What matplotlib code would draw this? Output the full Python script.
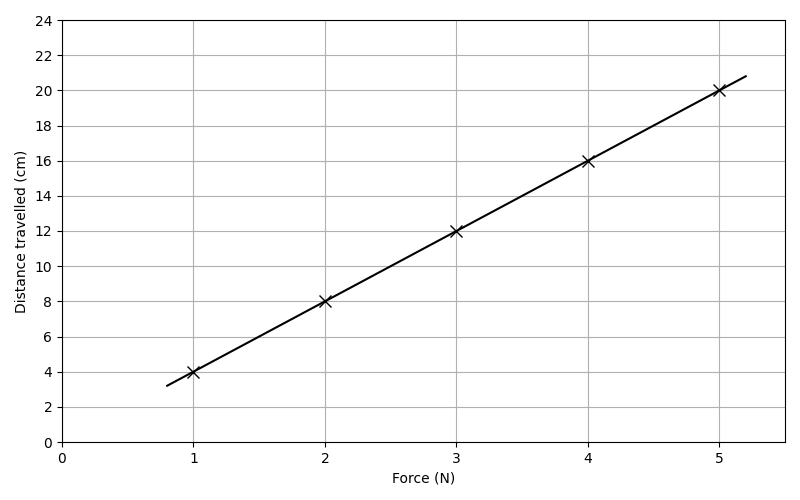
import matplotlib
matplotlib.use("Agg")
import matplotlib.pyplot as plt

force = [1, 2, 3, 4, 5]
distance = [4, 8, 12, 16, 20]
fit_x = [0.8, 5.2]
fit_y = [3.2, 20.8]
x_ticks = [0, 1, 2, 3, 4, 5]
y_ticks = list(range(0, 25, 2))

fig = plt.figure(figsize=(8, 5), dpi=100)
ax = fig.add_axes([0.0775, 0.116, 0.904, 0.844])
ax.plot(fit_x, fit_y, color="black", linewidth=1.5, zorder=3)
ax.plot(force, distance, linestyle="none", marker="x", markersize=9,
        markeredgewidth=1, color="black", zorder=4)
ax.set_xlim(0, 5.5)
ax.set_ylim(0, 24)
ax.set_xticks(x_ticks)
ax.set_yticks(y_ticks)
ax.grid(True, color="#b0b0b0", linewidth=0.8)
ax.set_axisbelow(True)
ax.set_xlabel("Force (N)")
ax.set_ylabel("Distance travelled (cm)")
fig.savefig("out.png", dpi=100)
